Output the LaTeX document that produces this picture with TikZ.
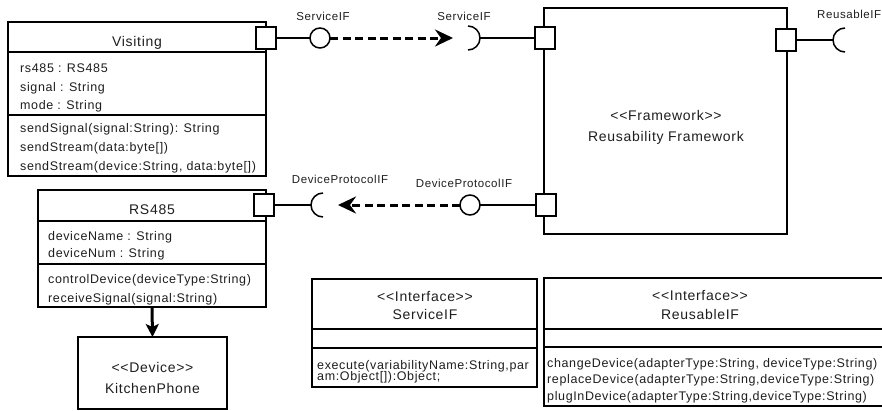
\documentclass[tikz,border=0pt]{standalone}
\usepackage{fontspec}
\setmainfont{Liberation Sans}[LetterSpace=5, Ligatures=TeXOff]
\usetikzlibrary{arrows.meta}
\definecolor{ink}{HTML}{1E1E1E}
\begin{document}
\begin{tikzpicture}[x=1pt,y=-1pt,
  box/.style={draw, line width=1.6pt, inner sep=0pt, outer sep=0pt, anchor=north west},
  divider/.style={line width=1.6pt},
  port/.style={draw, fill=white, line width=1.5pt, minimum width=20pt, minimum height=22pt, inner sep=0pt, outer sep=0pt},
  ball/.style={draw, circle, fill=white, line width=1.5pt, minimum size=20pt, inner sep=0pt, outer sep=0pt},
  wire/.style={line width=1.5pt},
  sock/.style={line width=1.5pt},
  flow/.style={line width=3pt, dash pattern=on 8pt off 4.5pt, -{Stealth[length=18pt,width=17pt,inset=6pt]}},
  solidflow/.style={line width=3pt, -{Stealth[length=13pt,width=13pt,inset=3pt]}},
  title/.style={font=\fontsize{14}{16}\selectfont, text=ink, anchor=base, inner sep=0pt},
  member/.style={font=\fontsize{12.5}{14}\selectfont, text=ink, anchor=base west, inner sep=0pt},
  tag/.style={font=\fontsize{11.5}{13}\selectfont, text=ink, anchor=base, inner sep=0pt},
]
\clip (0,0) rectangle (882,410);

% ---------- Visiting class ----------
\node[box, minimum width=258pt, minimum height=154pt] (visiting) at (8,22) {};
\draw[divider] (8,52) -- (266,52);
\draw[divider] (8,115) -- (266,115);
\node[title] (visT) at (137,46.5) {Visiting};
\node[member] (v1) at (20,72.5) {rs485 : RS485};
\node[member] (v2) at (20,91) {signal : String};
\node[member] (v3) at (20,109) {mode : String};
\node[member] (v4) at (20,132) {sendSignal(signal:String): String};
\node[member] (v5) at (20,151) {sendStream(data:byte[])};
\node[member] (v6) at (20,170) {sendStream(device:String, data:byte[])};

% ---------- RS485 class ----------
\node[box, minimum width=228pt, minimum height=117pt] (rs) at (38,190) {};
\draw[divider] (38,221) -- (266,221);
\draw[divider] (38,264) -- (266,264);
\node[title] (rsT) at (152,214) {RS485};
\node[member] (r1) at (48,240) {deviceName : String};
\node[member] (r2) at (48,257) {deviceNum : String};
\node[member] (r3) at (48,283) {controlDevice(deviceType:String)};
\node[member] (r4) at (48,302) {receiveSignal(signal:String)};

% ---------- KitchenPhone device ----------
\node[box, minimum width=149pt, minimum height=72pt] (kitchen) at (78,337) {};
\node[title] (k1) at (152.5,372) {<<Device>>};
\node[title] (k2) at (152.5,393) {KitchenPhone};
\draw[solidflow] (rs.south) -- (kitchen.north);

% ---------- Framework component ----------
\node[box, minimum width=243pt, minimum height=226pt] (fw) at (544,8) {};
\node[title] (fw1) at (666,120) {<<Framework>>};
\node[title] (fw2) at (666,141) {Reusability Framework};

% ---------- ports ----------
\node[port] (vport) at (266,38) {};
\node[port] (rport) at (264,205) {};
\node[port] (fportA) at (545,38) {};
\node[port] (fportB) at (546,205) {};
\node[port] (fportC) at (786,40) {};

% ---------- ServiceIF: provided by Visiting, required by Framework ----------
\node[ball] (sball) at (320,38) {};
\coordinate (ssock) at (480,38);
\coordinate (stip) at (453,38);
\draw[wire] (vport.east) -- (sball.west);
\draw[sock] (ssock) arc[start angle=0, end angle=90, radius=12]
            (ssock) arc[start angle=0, end angle=-90, radius=12];
\draw[wire] (ssock) -- (fportA.west);
\draw[flow] (sball.east) -- (stip);
\node[tag] (sl1) at (323,20) {ServiceIF};
\node[tag] (sl2) at (464,20) {ServiceIF};

% ---------- DeviceProtocolIF: provided by Framework, required by RS485 ----------
\node[ball] (dball) at (470,205) {};
\coordinate (dsock) at (311,205);
\coordinate (dtip) at (338,205);
\draw[wire] (fportB.west) -- (dball.east);
\draw[sock] (dsock) arc[start angle=180, end angle=90, radius=12]
            (dsock) arc[start angle=180, end angle=270, radius=12];
\draw[wire] (rport.east) -- (dsock);
\draw[flow] (dball.west) -- (dtip);
\node[tag] (dl1) at (340,183) {DeviceProtocolIF};
\node[tag] (dl2) at (464,187) {DeviceProtocolIF};

% ---------- ReusableIF socket on the Framework ----------
\coordinate (rsock) at (833,40);
\draw[wire] (fportC.east) -- (rsock);
\draw[sock] (rsock) arc[start angle=180, end angle=90, radius=12]
            (rsock) arc[start angle=180, end angle=270, radius=12];
\node[tag, anchor=base west] (rl) at (817,18) {ReusableIF};

% ---------- ServiceIF interface ----------
\node[box, minimum width=225pt, minimum height=108pt] (sif) at (312,279) {};
\draw[divider] (312,329) -- (537,329);
\draw[divider] (312,348) -- (537,348);
\node[title] (s1) at (425,301) {<<Interface>>};
\node[title] (s2) at (425,319) {ServiceIF};
\node[member] (s3) at (317,369) {execute(variabilityName:String,par};
\node[member] (s4) at (317,380.5) {am:Object[]):Object;};

% ---------- ReusableIF interface ----------
\node[box, minimum width=360pt, minimum height=128pt] (rif) at (544,278) {};
\draw[divider] (544,329) -- (904,329);
\draw[divider] (544,347) -- (904,347);
\node[title] (u1) at (700,300) {<<Interface>>};
\node[title] (u2) at (700,319) {ReusableIF};
\node[member] (u3) at (547,367) {changeDevice(adapterType:String, deviceType:String)};
\node[member] (u4) at (547,383) {replaceDevice(adapterType:String,deviceType:String)};
\node[member] (u5) at (547,400) {plugInDevice(adapterType:String,deviceType:String)};
\end{tikzpicture}
\end{document}
